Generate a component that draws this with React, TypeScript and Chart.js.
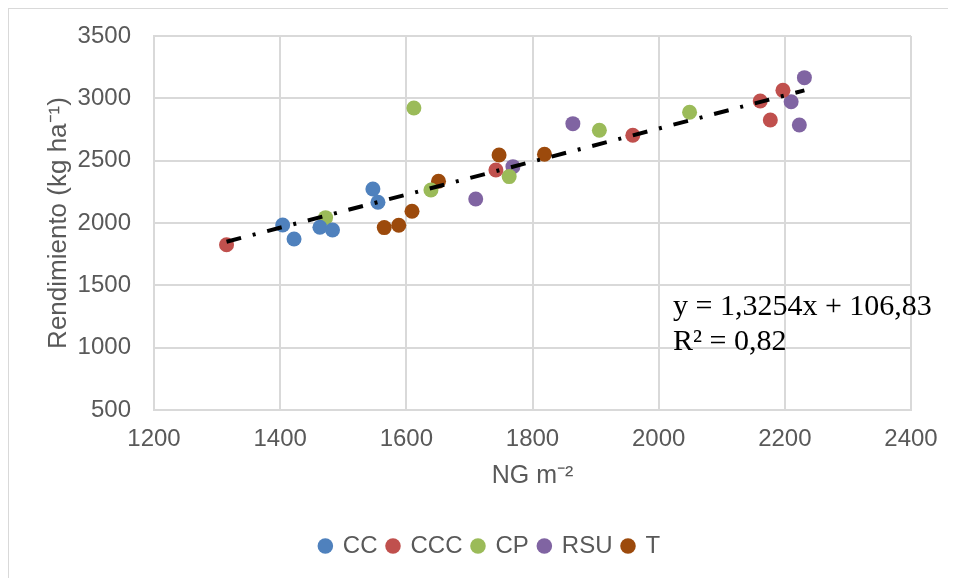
import React, { useEffect, useRef } from 'react';
import { Chart, registerables } from 'chart.js';

Chart.register(...registerables);

// ---- data ----
const seriesNames = ['CC', 'CCC', 'CP', 'RSU', 'T'];
const seriesColors = ['#4F81BD', '#C0504D', '#9BBB59', '#8064A2', '#9C4A0C'];

const ccX = [1404, 1422, 1463, 1483, 1547, 1555];
const ccY = [1984, 1872, 1966, 1944, 2273, 2166];
const cccX = [1315, 1742, 1959, 2161, 2197, 2177];
const cccY = [1825, 2425, 2704, 2979, 3064, 2826];
const cpX = [1472, 1612, 1639, 1763, 1906, 2049];
const cpY = [2043, 2923, 2265, 2372, 2744, 2888];
const rsuX = [1710, 1769, 1864, 2210, 2231, 2223];
const rsuY = [2193, 2452, 2797, 2973, 3166, 2786];
const tX = [1565, 1588, 1609, 1651, 1747, 1819];
const tY = [1963, 1982, 2094, 2335, 2546, 2551];

const seriesX = [ccX, cccX, cpX, rsuX, tX];
const seriesY = [ccY, cccY, cpY, rsuY, tY];

const trendSlope = 1.3254;
const trendIntercept = 106.83;
const equationLine1 = 'y = 1,3254x + 106,83';
const equationLine2 = 'R² = 0,82';

const xTicks = [1200, 1400, 1600, 1800, 2000, 2200, 2400];
const yTicks = [500, 1000, 1500, 2000, 2500, 3000, 3500];

const xTitle = 'NG m⁻²';
const yTitle = 'Rendimiento (kg ha⁻¹)';

const FONT = '"Liberation Sans", Arial, sans-serif';
const TEXT = '#595959';
const GRID = '#d9d9d9';

const equationPlugin = {
  id: 'equationText',
  afterDatasetsDraw(chart: any) {
    const { ctx, chartArea } = chart;
    ctx.save();
    ctx.font = '30px "Liberation Serif", "Times New Roman", serif';
    ctx.fillStyle = '#000000';
    ctx.textAlign = 'left';
    ctx.textBaseline = 'alphabetic';
    ctx.fillText(equationLine1, chartArea.left + 519, chartArea.top + 279);
    ctx.fillText(equationLine2, chartArea.left + 519, chartArea.top + 314);
    ctx.restore();
  },
};

export default function App() {
  const canvasRef = useRef<HTMLCanvasElement | null>(null);

  useEffect(() => {
    if (!canvasRef.current) return;
    const allX = seriesX.flat();
    const xLo = Math.min(...allX);
    const xHi = Math.max(...allX);

    const datasets: any[] = seriesNames.map((name, i) => ({
      label: name,
      data: seriesX[i].map((x, j) => ({ x, y: seriesY[i][j] })),
      backgroundColor: seriesColors[i],
      borderColor: seriesColors[i],
      pointRadius: 7.5,
      pointHoverRadius: 7.5,
      pointBorderWidth: 0,
      showLine: false,
      order: 1,
    }));
    datasets.push({
      label: 'trend',
      data: [
        { x: xLo, y: trendSlope * xLo + trendIntercept },
        { x: xHi, y: trendSlope * xHi + trendIntercept },
      ],
      showLine: true,
      borderColor: '#000000',
      borderWidth: 4,
      borderDash: [15, 12, 3, 12],
      pointRadius: 0,
      fill: false,
      order: 0,
    });

    const chart = new Chart(canvasRef.current, {
      type: 'scatter',
      data: { datasets },
      options: {
        animation: false,
        responsive: false,
        devicePixelRatio: 1,
        layout: { padding: { left: 60, right: 45, top: 27, bottom: 10 } },
        plugins: {
          tooltip: { enabled: false },
          legend: {
            position: 'bottom',
            labels: {
              usePointStyle: true,
              pointStyle: 'circle',
              boxWidth: 11,
              boxHeight: 11,
              padding: 10,
              color: TEXT,
              font: { size: 24, family: FONT },
              filter: (item: any) => item.text !== 'trend',
            },
          },
        },
        scales: {
          x: {
            type: 'linear',
            min: xTicks[0],
            max: xTicks[xTicks.length - 1],
            afterBuildTicks: (scale: any) => {
              scale.ticks = xTicks.map((v) => ({ value: v }));
            },
            afterFit: (scale: any) => {
              scale.height = 114;
            },
            grid: {
              color: GRID,
              lineWidth: 2,
              drawTicks: true,
              tickLength: 15,
              tickColor: 'rgba(0,0,0,0)',
            },
            border: { color: GRID, width: 2 },
            ticks: {
              color: TEXT,
              font: { size: 24, family: FONT },
              padding: 0,
              callback: (v: any) => String(v),
            },
            title: {
              display: true,
              text: xTitle,
              color: TEXT,
              font: { size: 25, family: FONT },
              padding: { top: 0, bottom: 33 },
            },
          },
          y: {
            type: 'linear',
            min: yTicks[0],
            max: yTicks[yTicks.length - 1],
            afterBuildTicks: (scale: any) => {
              scale.ticks = yTicks.map((v) => ({ value: v }));
            },
            afterFit: (scale: any) => {
              scale.width = 85;
            },
            grid: {
              color: GRID,
              lineWidth: 2,
              drawTicks: true,
              tickLength: 23,
              tickColor: 'rgba(0,0,0,0)',
            },
            border: { color: GRID, width: 2 },
            ticks: {
              color: TEXT,
              font: { size: 24, family: FONT },
              padding: 0,
              callback: (v: any) => String(v),
            },
            title: {
              display: true,
              text: yTitle,
              color: TEXT,
              font: { size: 26, family: FONT },
              padding: { top: -26, bottom: 0 },
            },
          },
        },
      },
      plugins: [equationPlugin],
    } as any);

    return () => chart.destroy();
  }, []);

  return (
    <div
      style={{
        width: 948,
        height: 570,
        boxSizing: 'border-box',
        borderTop: '1px solid #d9d9d9',
        borderLeft: '1px solid #d9d9d9',
        position: 'relative',
        overflow: 'hidden',
      }}
    >
      <canvas
        ref={canvasRef}
        width={947}
        height={569}
        style={{ position: 'absolute', left: 0, top: 0, width: 947, height: 569 }}
      />
    </div>
  );
}
